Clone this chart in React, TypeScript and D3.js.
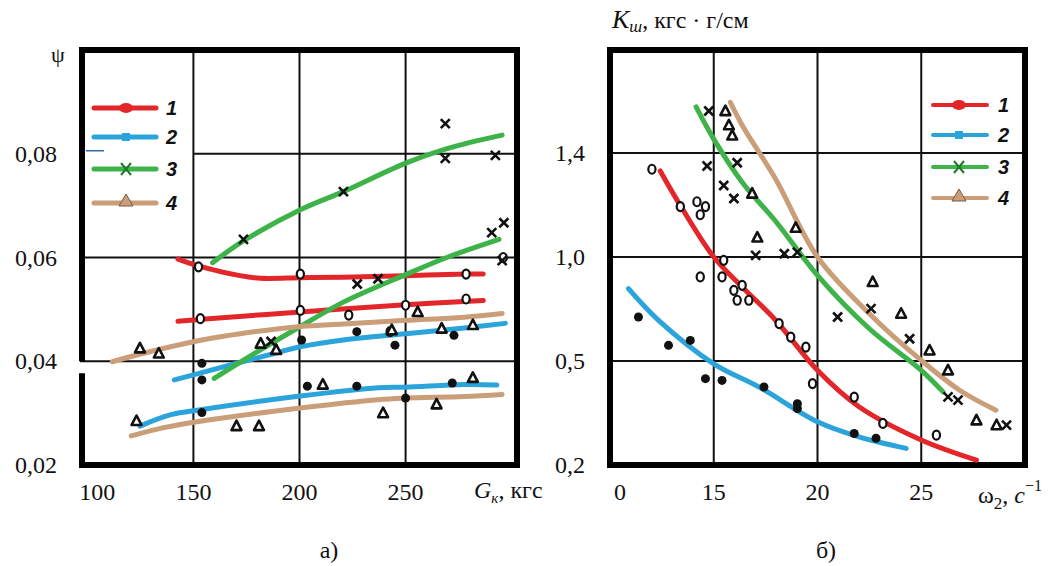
import React from "react";
import * as d3 from "d3";

const W = 1058;
const H = 566;

const colors = ["#e2262a", "#2ba4dc", "#3db34a", "#c99e78"];
const seriesNames = ["1", "2", "3", "4"];

// ---------- panel а) : psi vs G_k ----------
const gTicks = [100, 150, 200, 250];
const psiTicks = [0.02, 0.04, 0.06, 0.08];
const psiLabels = ["0,02", "0,04", "0,06", "0,08"];

// fitted curves, two per series
const aCurves: [number, number][][][] = [
  [
    [[142.7, 0.0597], [152.4, 0.0584], [172, 0.0565], [181.7, 0.056], [200.4, 0.0561], [220.7, 0.0562], [250, 0.0565], [279, 0.0568], [286.6, 0.0568]],
    [[142.7, 0.0477], [154, 0.0481], [200.4, 0.0495], [250, 0.0509], [286.6, 0.0517]],
  ],
  [
    [[141, 0.0364], [155.7, 0.038], [188, 0.0415], [200.4, 0.0428], [220.7, 0.0441], [250, 0.0453], [277.6, 0.0464], [297, 0.0473]],
    [[124.8, 0.0275], [139.4, 0.0297], [154, 0.0307], [200.4, 0.0333], [237, 0.0349], [250, 0.035], [277.6, 0.0355], [293, 0.0354]],
  ],
  [
    [[159, 0.059], [173.6, 0.0632], [200.4, 0.0692], [220.7, 0.0727], [250, 0.0782], [269.5, 0.081], [295.5, 0.0836]],
    [[159.8, 0.0367], [180, 0.0418], [200.4, 0.0467], [220.7, 0.0514], [250, 0.0567], [270, 0.0601], [294, 0.0635]],
  ],
  [
    [[111.8, 0.0399], [123.2, 0.0412], [154, 0.0441], [172, 0.0453], [200.4, 0.0467], [220.7, 0.0472], [250, 0.0479], [277.6, 0.0485], [295.5, 0.0492]],
    [[120.7, 0.0256], [136, 0.0272], [154, 0.0285], [200.4, 0.031], [237, 0.0326], [250, 0.0329], [277.6, 0.0332], [295.5, 0.0336]],
  ],
];

// measured points
const aPts1: [number, number][] = [[152.4, 0.0582], [200.4, 0.0568], [278.5, 0.0568], [153.3, 0.0482], [200.4, 0.0498], [223.2, 0.0489], [250, 0.0508], [278.5, 0.052], [242.7, 0.0457], [296, 0.06]];
const aPts2: [number, number][] = [[154, 0.0396], [154, 0.0364], [201, 0.0441], [227, 0.0457], [245, 0.0431], [272.8, 0.045], [203.7, 0.0352], [227, 0.0352], [272, 0.0358], [250, 0.0329], [154, 0.0301]];
const aPts3: [number, number][] = [[173.6, 0.0635], [220.7, 0.0727], [268.7, 0.0858], [268.7, 0.0791], [292.3, 0.0797], [227.2, 0.0549], [237, 0.0559], [186.6, 0.0438], [290.6, 0.0648], [296.3, 0.0667], [295.5, 0.0594]];
const aPts4: [number, number][] = [[124.8, 0.0425], [133.7, 0.0415], [181.7, 0.0434], [189, 0.0422], [243.5, 0.046], [267, 0.0463], [281.7, 0.047], [255.7, 0.0495], [123.2, 0.0285], [170.3, 0.0275], [180.9, 0.0275], [211, 0.0355], [239.4, 0.03], [281.7, 0.0368], [264.6, 0.0317]];
const aPoints = [aPts1, aPts2, aPts3, aPts4];

// ---------- panel б) : K_sh vs omega_2 ----------
const wTicks = [10, 15, 20, 25];
const wLabels = ["0", "15", "20", "25"];
const kTicks = [0.2, 0.5, 1.0, 1.4];
const kLabels = ["0,2", "0,5", "1,0", "1,4"];

const bCurves: [number, number][][] = [
  [[12.42, 1.331], [13.47, 1.1875], [15, 1.0], [16.37, 0.856], [17.98, 0.696], [20, 0.473], [22, 0.368], [25, 0.272], [27.66, 0.214]],
  [[10.89, 0.848], [12.34, 0.6955], [15, 0.492], [17.18, 0.425], [20, 0.3246], [22, 0.281], [24.27, 0.248]],
  [[14.15, 1.579], [15, 1.454], [16.37, 1.2875], [17.98, 1.1375], [20, 0.912], [22.5, 0.655], [25, 0.473], [26.05, 0.411]],
  [[15.8, 1.597], [16.37, 1.508], [17.98, 1.3], [20, 1.0], [22.5, 0.7276], [25, 0.503], [26.85, 0.4157], [28.6, 0.358]],
];

const bPts1: [number, number][] = [[12.02, 1.3375], [13.39, 1.194], [14.19, 1.2125], [14.6, 1.194], [14.35, 1.1625], [15.48, 0.984], [14.35, 0.904], [15.4, 0.904], [15.97, 0.84], [16.37, 0.864], [16.13, 0.792], [16.69, 0.792], [18.15, 0.68], [18.71, 0.615], [19.44, 0.567], [19.76, 0.435], [21.77, 0.396], [23.15, 0.32], [25.73, 0.286]];
const bPts2: [number, number][] = [[11.37, 0.7115], [12.82, 0.5753], [13.87, 0.599], [14.6, 0.449], [15.4, 0.444], [17.42, 0.425], [19.03, 0.377], [19.03, 0.363], [21.77, 0.291], [22.82, 0.277]];
const bPts3: [number, number][] = [[14.76, 1.563], [14.68, 1.35], [15.48, 1.275], [15.97, 1.225], [16.13, 1.3625], [17.02, 1.006], [18.4, 1.0125], [19.03, 1.019], [20.97, 0.7115], [22.58, 0.7516], [24.44, 0.607], [26.29, 0.3965], [26.77, 0.387], [29.11, 0.315]];
const bPts4: [number, number][] = [[15.56, 1.563], [15.73, 1.508], [15.89, 1.468], [16.85, 1.244], [18.95, 1.1125], [17.1, 1.075], [22.66, 0.88], [24.03, 0.7276], [25.4, 0.551], [26.29, 0.473], [27.66, 0.329], [28.63, 0.315]];
const bPoints = [bPts1, bPts2, bPts3, bPts4];

// scales
const xA = d3.scaleLinear().domain([97.5, 302.5]).range([82, 517]);
const yA = d3.scaleLinear().domain([0.02, 0.1]).range([465, 50]);
const xB = d3.scaleLinear().domain([10, 30]).range([610, 1025]);
const yB = d3.scaleLinear().domain([0.2, 0.5, 1.0, 1.4, 1.8]).range([465, 361, 257, 153, 50]);

const serif = "Liberation Serif, DejaVu Serif, serif";
const sans = "Liberation Sans, DejaVu Sans, sans-serif";

function Marker({ kind, x, y, color = "#111", s = 4.5 }: { kind: number; x: number; y: number; color?: string; s?: number }) {
  if (kind === 0)
    return <ellipse cx={x} cy={y} rx={s * 0.8} ry={s} fill="#fff" stroke={color} strokeWidth={2.2} />;
  if (kind === 1) return <circle cx={x} cy={y} r={s} fill={color} />;
  if (kind === 2)
    return (
      <g stroke={color} strokeWidth={2.6}>
        <line x1={x - s} y1={y - s} x2={x + s} y2={y + s} />
        <line x1={x - s} y1={y + s} x2={x + s} y2={y - s} />
      </g>
    );
  const h = s * 2;
  return (
    <path
      d={`M${x},${y - h * 0.6} L${x + s * 1.1},${y + h * 0.45} L${x - s * 1.1},${y + h * 0.45} Z`}
      fill="#fff"
      stroke={color}
      strokeWidth={2.6}
      strokeLinejoin="round"
    />
  );
}

function LegendMarker({ kind, x, y, color }: { kind: number; x: number; y: number; color: string }) {
  if (kind === 0) return <ellipse cx={x} cy={y} rx={7} ry={5} fill={color} />;
  if (kind === 1) return <rect x={x - 4} y={y - 4} width={8} height={8} fill={color} />;
  if (kind === 2)
    return (
      <g stroke="#1f7a2a" strokeWidth={2}>
        <line x1={x - 5} y1={y - 6} x2={x + 5} y2={y + 6} />
        <line x1={x - 5} y1={y + 6} x2={x + 5} y2={y - 6} />
      </g>
    );
  return <path d={`M${x},${y - 9} L${x + 7},${y + 3} L${x - 7},${y + 3} Z`} fill={color} stroke="#7a5a40" strokeWidth={1} />;
}

export default function App() {
  const lineA = d3
    .line<[number, number]>()
    .x((d) => xA(d[0]))
    .y((d) => yA(d[1]))
    .curve(d3.curveCatmullRom.alpha(0.5));
  const lineB = d3
    .line<[number, number]>()
    .x((d) => xB(d[0]))
    .y((d) => yB(d[1]))
    .curve(d3.curveCatmullRom.alpha(0.5));

  const aLeft = xA.range()[0];
  const aRight = xA.range()[1];
  const aTop = yA.range()[1];
  const aBot = yA.range()[0];
  const bLeft = xB.range()[0];
  const bRight = xB.range()[1];
  const bTop = yB(1.8);
  const bBot = yB(0.2);

  const legendA = [108, 137, 169, 203];
  const legendB = [105, 135, 167, 198];

  return (
    <div style={{ position: "absolute", left: 0, top: 0 }}>
      <svg width={W} height={H} style={{ display: "block", background: "#fff" }}>
        {/* ===== panel а) ===== */}
        <g>
          {/* grid */}
          {gTicks.slice(1).map((g) => (
            <line key={`ga${g}`} x1={xA(g)} x2={xA(g)} y1={aTop} y2={aBot} stroke="#111" strokeWidth={2} />
          ))}
          {psiTicks.slice(1).map((p) => (
            <line
              key={`pa${p}`}
              x1={p === 0.08 ? xA(150) : p === 0.04 ? aLeft - 2 : aLeft}
              x2={aRight}
              y1={yA(p)}
              y2={yA(p)}
              stroke="#111"
              strokeWidth={2}
            />
          ))}
          {/* frame */}
          <line x1={aLeft} x2={aRight} y1={aTop} y2={aTop} stroke="#000" strokeWidth={6} />
          <line x1={aLeft} x2={aRight} y1={aBot} y2={aBot} stroke="#000" strokeWidth={6} />
          <line x1={aRight} x2={aRight} y1={aTop - 3} y2={aBot + 3} stroke="#000" strokeWidth={6} />
          <line x1={aLeft} x2={aLeft} y1={aTop - 3} y2={yA(0.04)} stroke="#000" strokeWidth={6} />
          <line x1={aLeft} x2={aLeft} y1={yA(0.04) + 12} y2={aBot + 3} stroke="#000" strokeWidth={6} />
          <line x1={aLeft + 4} x2={aLeft + 22} y1={yA(0.08) - 3} y2={yA(0.08) - 3} stroke="#2b6cb0" strokeWidth={1.5} />

          {/* curves */}
          {aCurves.map((pair, i) =>
            pair.map((c, j) => (
              <path key={`ca${i}${j}`} d={lineA(c) || ""} fill="none" stroke={colors[i]} strokeWidth={5} strokeLinecap="round" />
            ))
          )}
          {/* points */}
          {aPoints.map((pts, i) =>
            pts.map((p, j) => <Marker key={`pa${i}_${j}`} kind={i} x={xA(p[0])} y={yA(p[1])} s={4.5} />)
          )}

          {/* legend */}
          {legendA.map((y, i) => (
            <g key={`la${i}`}>
              <line x1={94} x2={156} y1={y} y2={y} stroke={colors[i]} strokeWidth={5} strokeLinecap="round" />
              <LegendMarker kind={i} x={126} y={y} color={colors[i]} />
              <text x={166} y={y + 7} fontFamily={sans} fontWeight="bold" fontStyle="italic" fontSize={20} fill="#111">
                {seriesNames[i]}
              </text>
            </g>
          ))}

          {/* axis labels */}
          {psiTicks.map((p, i) => (
            <text key={`tpa${p}`} x={57} y={yA(p) + 8} textAnchor="end" fontFamily={serif} fontSize={24} fill="#111">
              {psiLabels[i]}
            </text>
          ))}
          {gTicks.map((g, i) => (
            <text key={`tga${g}`} x={xA(g) + (i === 0 ? 10 : 0)} y={500} textAnchor="middle" fontFamily={serif} fontSize={24} fill="#111">
              {g}
            </text>
          ))}
          <text x={58} y={62} textAnchor="middle" fontFamily={serif} fontSize={22} fill="#111">ψ</text>
          <text x={474} y={498} fontFamily={serif} fontSize={24} fill="#111">
            <tspan fontStyle="italic">G</tspan>
            <tspan fontStyle="italic" fontSize={15} dy={5}>к</tspan>
            <tspan dy={-5}>, кгс</tspan>
          </text>
          <text x={329} y={558} textAnchor="middle" fontFamily={serif} fontSize={24} fill="#111">а)</text>
        </g>

        {/* ===== panel б) ===== */}
        <g>
          {wTicks.slice(1).map((w) => (
            <line key={`gb${w}`} x1={xB(w)} x2={xB(w)} y1={bTop} y2={bBot} stroke="#111" strokeWidth={2} />
          ))}
          {kTicks.slice(1).map((k) => (
            <line key={`kb${k}`} x1={bLeft} x2={bRight} y1={yB(k)} y2={yB(k)} stroke="#111" strokeWidth={2} />
          ))}
          <rect x={bLeft} y={bTop} width={bRight - bLeft} height={bBot - bTop} fill="none" stroke="#000" strokeWidth={6} />

          {bCurves.map((c, i) => (
            <path key={`cb${i}`} d={lineB(c) || ""} fill="none" stroke={colors[i]} strokeWidth={5} strokeLinecap="round" />
          ))}
          {bPoints.map((pts, i) =>
            pts.map((p, j) => <Marker key={`pb${i}_${j}`} kind={i} x={xB(p[0])} y={yB(p[1])} s={4.5} />)
          )}

          {legendB.map((y, i) => (
            <g key={`lb${i}`}>
              <line x1={933} x2={987} y1={y} y2={y} stroke={colors[i]} strokeWidth={4} strokeLinecap="round" />
              <LegendMarker kind={i} x={959} y={y} color={colors[i]} />
              <text x={998} y={y + 7} fontFamily={sans} fontWeight="bold" fontStyle="italic" fontSize={20} fill="#111">
                {seriesNames[i]}
              </text>
            </g>
          ))}

          {kTicks.map((k, i) => (
            <text key={`tkb${k}`} x={585} y={yB(k) + 8} textAnchor="end" fontFamily={serif} fontSize={24} fill="#111">
              {kLabels[i]}
            </text>
          ))}
          {wTicks.map((w, i) => (
            <text key={`twb${w}`} x={xB(w) + (i === 0 ? 10 : 0)} y={500} textAnchor="middle" fontFamily={serif} fontSize={24} fill="#111">
              {wLabels[i]}
            </text>
          ))}
          <text x={612} y={28} fontFamily={serif} fontSize={24} fill="#111">
            <tspan fontStyle="italic" fontSize={26}>K</tspan>
            <tspan fontStyle="italic" fontSize={17} dy={4}>ш</tspan>
            <tspan dy={-4}>, кгс · г/см</tspan>
          </text>
          <text x={978} y={503} fontFamily={serif} fontSize={24} fill="#111">
            <tspan>ω</tspan>
            <tspan fontSize={17} dy={6}>2</tspan>
            <tspan dy={-6}>, </tspan>
            <tspan fontStyle="italic">c</tspan>
            <tspan fontSize={16} dy={-12}>−1</tspan>
          </text>
          <text x={826} y={558} textAnchor="middle" fontFamily={serif} fontSize={24} fill="#111">б)</text>
        </g>
      </svg>
    </div>
  );
}
